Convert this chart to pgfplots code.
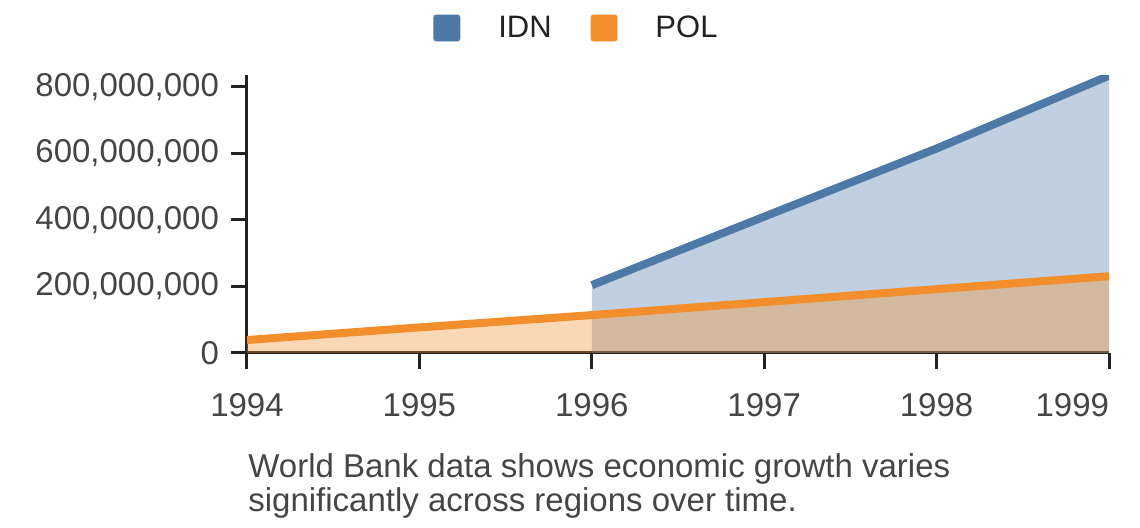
\documentclass[border=0pt]{standalone}
\usepackage{pgfplots}
\pgfplotsset{compat=1.18}
\usepackage{fontspec}
\setmainfont{Liberation Sans}
\definecolor{idn}{HTML}{4E79A7}
\definecolor{pol}{HTML}{F28E2B}
\definecolor{tickcol}{HTML}{454545}
\definecolor{axcol}{HTML}{222222}
\begin{document}
\begin{tikzpicture}
\path[use as bounding box] (-123.5pt,-87.5pt) rectangle (446.5pt,176.5pt);
\begin{axis}[
  scale only axis,
  width=431pt, height=139pt,
  xmin=1994, xmax=1999,
  ymin=0, ymax=836000000,
  axis lines=left,
  axis line style={-, line width=1.5pt, color=axcol},
  tick align=outside,
  major tick length=8pt,
  tick style={line width=1.5pt, color=axcol},
  xtick={1994,1995,1996,1997,1998,1999},
  xticklabels={1994,1995,1996,1997,1998,\makebox[0pt][r]{1999}},
  ytick={0,200000000,400000000,600000000,800000000},
  scaled ticks=false,
  /pgf/number format/assume math mode=true,
  xticklabel style={font=\fontsize{16.5}{18}\selectfont, text=tickcol, yshift=-8.5pt},
  yticklabel style={/pgf/number format/fixed, /pgf/number format/1000 sep={,}, font=\fontsize{16.5}{18}\selectfont, text=tickcol, xshift=-2.5pt},
  legend columns=2,
  legend style={draw=none, fill=none, at={(0.3834,1.169)}, anchor=center,
    font=\fontsize{15.5}{17}\selectfont, text=axcol,
    /tikz/every odd column/.style={column sep=17pt},
    /tikz/every even column/.style={column sep=17.5pt}},
]
\addlegendimage{legend image code/.code={\fill[idn, rounded corners=1.2pt] (0pt,-6.5pt) rectangle (13pt,6.5pt);}}
\addlegendentry{IDN}
\addlegendimage{legend image code/.code={\fill[pol, rounded corners=1.2pt] (0pt,-6.5pt) rectangle (13pt,6.5pt);}}
\addlegendentry{POL}
% IDN area
\addplot[draw=none, fill=idn, fill opacity=0.35, forget plot] coordinates {
 (1996,204000000) (1997,410000000) (1998,615000000) (1999,834000000)} \closedcycle;
% POL area
\addplot[draw=none, fill=pol, fill opacity=0.35, forget plot] coordinates {
 (1994,39000000) (1995,77000000) (1996,114000000) (1997,153000000) (1998,192000000) (1999,231000000)} \closedcycle;
% POL line
\addplot[pol, line width=4pt, forget plot] coordinates {
 (1994,39000000) (1995,77000000) (1996,114000000) (1997,153000000) (1998,192000000) (1999,231000000)};
% IDN line
\addplot[idn, line width=4pt, forget plot] coordinates {
 (1996,204000000) (1997,410000000) (1998,615000000) (1999,834000000)};
\end{axis}
\node[anchor=base west, align=left, font=\fontsize{16.5}{17}\selectfont, text=tickcol, inner sep=0pt] at (0.5pt,-79.5pt)
 {World Bank data shows economic growth varies\\significantly across regions over time.};
\end{tikzpicture}
\end{document}
